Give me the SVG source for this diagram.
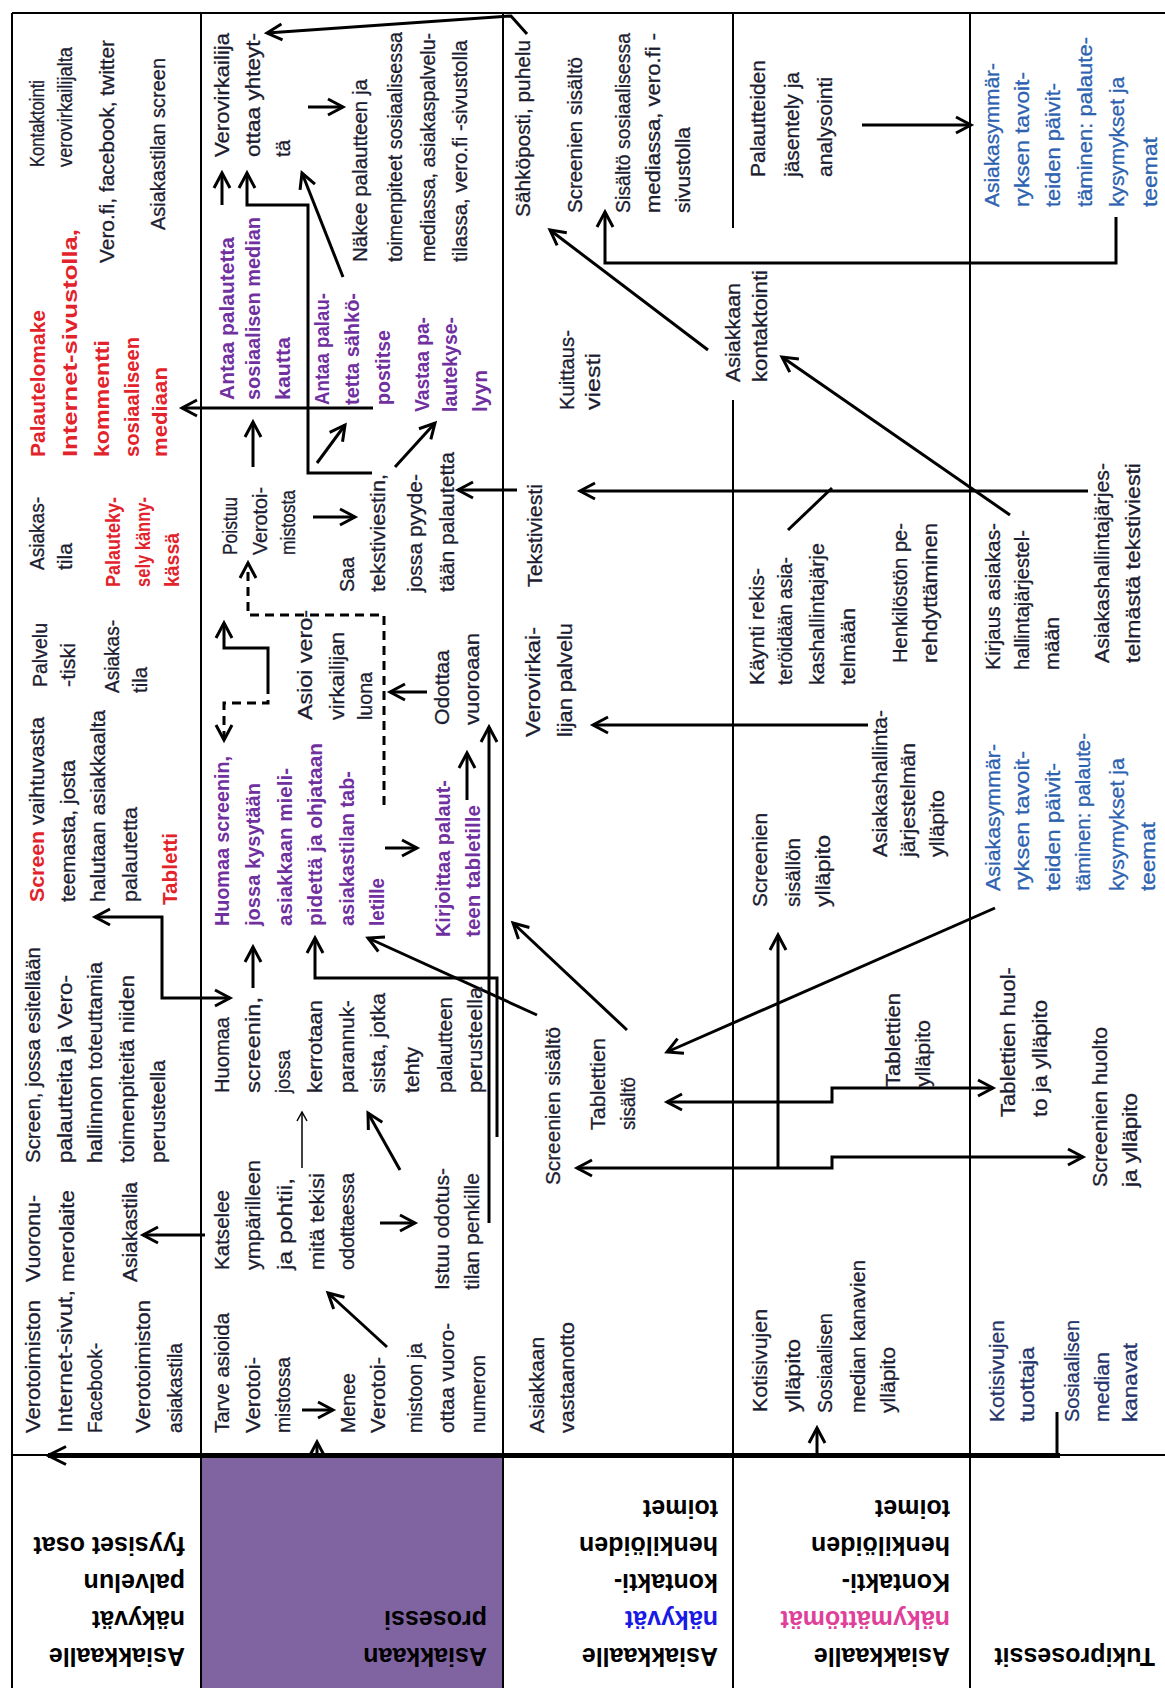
<svg xmlns="http://www.w3.org/2000/svg" width="1165" height="1688" viewBox="0 0 1165 1688">
<style>
  text { font-family: "Liberation Sans", Arial, sans-serif; }
  .t { font-size: 20px; fill: #1c1c30; stroke: #1c1c30; stroke-width: 0.3; }
  .r { fill: #e3232b; stroke: #e3232b; font-weight: bold; stroke-width: 0; }
  .p { fill: #7030a0; stroke: #7030a0; font-weight: bold; stroke-width: 0; }
  .b { fill: #2c62b0; stroke: #2c62b0; }
  .nv { fill: #24346b; stroke: #24346b; }
  .h { font-size: 25px; font-weight: bold; fill: #000; }
  .ln { stroke: #000; stroke-width: 2; fill: none; }
  .c { stroke: #000; stroke-width: 3; fill: none; marker-end: url(#ah); }
  .c2 { marker-start: url(#ah); }
  .d { stroke-dasharray: 9 6; }
  .thin { stroke: #000; stroke-width: 1.5; fill: none; marker-end: url(#ahs); }
</style>
<defs>
  <marker id="ah" viewBox="-20 -12 24 24" refX="0" refY="0" markerWidth="24" markerHeight="24" markerUnits="userSpaceOnUse" orient="auto-start-reverse">
    <path d="M-15,-8 L0,0 L-15,8" fill="none" stroke="#000" stroke-width="3"/>
  </marker>
  <marker id="ahs" viewBox="-12 -8 16 16" refX="0" refY="0" markerWidth="16" markerHeight="16" markerUnits="userSpaceOnUse" orient="auto">
    <path d="M-9,-5 L0,0 L-9,5" fill="none" stroke="#000" stroke-width="1.5"/>
  </marker>
  <marker id="ahb" viewBox="-24 -14 28 28" refX="0" refY="0" markerWidth="28" markerHeight="28" markerUnits="userSpaceOnUse" orient="auto">
    <path d="M-18,-9 L0,0 L-18,9" fill="none" stroke="#000" stroke-width="3"/>
  </marker>
</defs>

<rect width="1165" height="1688" fill="#fff"/>

<!-- lane grid -->
<g id="lanes">
  <rect x="201" y="1456" width="302" height="232" fill="#8064a2"/>
  <line class="ln" x1="12" y1="13" x2="1165" y2="13"/>
  <line class="ln" x1="12" y1="13" x2="12" y2="1688"/>
  <line class="ln" x1="201" y1="13" x2="201" y2="1688"/>
  <line class="ln" x1="503" y1="13" x2="503" y2="1688"/>
  <line class="ln" x1="733" y1="13" x2="733" y2="228"/>
  <line class="ln" x1="733" y1="400" x2="733" y2="1688"/>
  <line class="ln" x1="970" y1="13" x2="970" y2="1688"/>
  <line class="ln" x1="12" y1="1455" x2="1165" y2="1455"/>
</g>

<!-- lane headers (printed upside down) -->
<g id="header-fyysiset">
  <text class="h" transform="translate(185 1648) rotate(180)">Asiakkaalle</text>
  <text class="h" transform="translate(185 1611) rotate(180)">näkyvät</text>
  <text class="h" transform="translate(185 1574) rotate(180)">palvelun</text>
  <text class="h" transform="translate(185 1537) rotate(180)">fyysiset osat</text>
</g>
<g id="header-prosessi">
  <text class="h" transform="translate(487 1648) rotate(180)">Asiakkaan</text>
  <text class="h" transform="translate(487 1611) rotate(180)">prosessi</text>
</g>
<g id="header-nakyvat">
  <text class="h" transform="translate(718 1648) rotate(180)">Asiakkaalle</text>
  <text class="h" transform="translate(718 1611) rotate(180)" style="fill:#1a1ae6">näkyvät</text>
  <text class="h" transform="translate(718 1574) rotate(180)">kontakti-</text>
  <text class="h" transform="translate(718 1537) rotate(180)">henkilöiden</text>
  <text class="h" transform="translate(718 1500) rotate(180)">toimet</text>
</g>
<g id="header-nakymattomat">
  <text class="h" transform="translate(950 1648) rotate(180)">Asiakkaalle</text>
  <text class="h" transform="translate(950 1611) rotate(180)" style="fill:#e0409a">näkymättömät</text>
  <text class="h" transform="translate(950 1574) rotate(180)">Kontakti-</text>
  <text class="h" transform="translate(950 1537) rotate(180)">henkilöiden</text>
  <text class="h" transform="translate(950 1500) rotate(180)">toimet</text>
</g>
<g id="header-tuki">
  <text class="h" transform="translate(1155 1648) rotate(180)">Tukiprosessit</text>
</g>

<!-- connectors -->
<g id="connectors">
  <line x1="1060" y1="1455.5" x2="48" y2="1455.5" stroke="#000" stroke-width="5" marker-end="url(#ahb)"/>
  <polyline class="c" points="527,34 511,16 267,33"/>
  <polyline class="c" points="1116,217 1116,263 605,263 605,212"/>
  <line class="c" x1="862" y1="125" x2="971" y2="125"/>
  <line class="c" x1="708" y1="350" x2="550" y2="230"/>
  <line class="c" x1="1010" y1="515" x2="782" y2="357"/>
  <line class="c" x1="1088" y1="491" x2="580" y2="491"/>
  <line class="c" x1="517" y1="490" x2="458" y2="490"/>
  <line x1="788" y1="530" x2="832" y2="488" stroke="#000" stroke-width="3"/>
  <line class="c" x1="868" y1="725" x2="593" y2="725"/>
  <line class="c" x1="995" y1="908" x2="667" y2="1052"/>
  <polyline class="c c2" points="667,1102 832,1102 832,1088 993,1088"/>
  <polyline class="c c2" points="577,1168 832,1168 832,1157 1083,1157"/>
  <line class="c" x1="778" y1="1168" x2="778" y2="935"/>
  <line x1="1057" y1="1456" x2="1057" y2="1412" stroke="#000" stroke-width="3"/>
  <line class="c" x1="817" y1="1456" x2="817" y2="1428"/>
  <line class="c" x1="317" y1="1456" x2="317" y2="1442"/>
  <line class="c" x1="302" y1="1410" x2="333" y2="1410"/>
  <line class="c" x1="387" y1="1347" x2="328" y2="1293"/>
  <line class="c" x1="380" y1="1223" x2="415" y2="1223"/>
  <line class="thin" x1="302" y1="1168" x2="302" y2="1112"/>
  <line class="c" x1="400" y1="1170" x2="368" y2="1113"/>
  <line class="c" x1="253" y1="988" x2="253" y2="947"/>
  <polyline class="c c2" points="95,917 162,917 162,998 230,998"/>
  <polyline class="c" points="497,1137 497,978 315,978 315,938"/>
  <line class="c" x1="489" y1="1223" x2="489" y2="727"/>
  <line class="c" x1="537" y1="1015" x2="368" y2="938"/>
  <line class="c" x1="627" y1="1030" x2="513" y2="923"/>
  <line class="c" x1="467" y1="800" x2="467" y2="753"/>
  <line class="c" x1="385" y1="848" x2="417" y2="848"/>
  <polyline class="c d" points="384,805 384,615 248,615 248,563"/>
  <line class="c" x1="427" y1="692" x2="390" y2="692"/>
  <polyline class="c" points="268,685 268,648 224,648 224,623"/>
  <polyline class="c d" points="268,685 268,703 224,703 224,740"/>
  <line class="c" x1="313" y1="517" x2="355" y2="517"/>
  <line class="c" x1="253" y1="467" x2="253" y2="422"/>
  <line class="c" x1="317" y1="463" x2="345" y2="425"/>
  <line class="c" x1="395" y1="467" x2="435" y2="423"/>
  <line class="c" x1="373" y1="408" x2="182" y2="408"/>
  <polyline class="c" points="372,473 308,473 308,205 247,205 247,173"/>
  <line class="c" x1="222" y1="205" x2="222" y2="173"/>
  <line class="c" x1="343" y1="277" x2="302" y2="173"/>
  <line class="c" x1="308" y1="107" x2="343" y2="107"/>
  <line class="c" x1="205" y1="1235" x2="143" y2="1235"/>
</g>

<!-- lane: physical evidence -->
<g id="n-kontaktointi-kanavat">
  <text class="t" transform="translate(44 167) rotate(-90)" textLength="87" lengthAdjust="spacingAndGlyphs">Kontaktointi</text>
  <text class="t" transform="translate(72 167) rotate(-90)" textLength="120" lengthAdjust="spacingAndGlyphs">verovirkailijalta</text>
  <text class="t" transform="translate(114 263) rotate(-90)" textLength="223" lengthAdjust="spacingAndGlyphs">Vero.fi, facebook, twitter</text>
  <text class="t" transform="translate(165 230) rotate(-90)" textLength="172" lengthAdjust="spacingAndGlyphs">Asiakastilan screen</text>
</g>
<g id="n-palautelomake">
  <text class="t r" transform="translate(45 457) rotate(-90)" textLength="147" lengthAdjust="spacingAndGlyphs">Palautelomake</text>
  <text class="t r" transform="translate(77 457) rotate(-90)" textLength="228" lengthAdjust="spacingAndGlyphs">Internet-sivustolla,</text>
  <text class="t r" transform="translate(109 457) rotate(-90)" textLength="117" lengthAdjust="spacingAndGlyphs">kommentti</text>
  <text class="t r" transform="translate(139 457) rotate(-90)" textLength="120" lengthAdjust="spacingAndGlyphs">sosiaaliseen</text>
  <text class="t r" transform="translate(167 457) rotate(-90)" textLength="90" lengthAdjust="spacingAndGlyphs">mediaan</text>
</g>
<g id="n-asiakastila-1">
  <text class="t" transform="translate(44 570) rotate(-90)" textLength="73" lengthAdjust="spacingAndGlyphs">Asiakas-</text>
  <text class="t" transform="translate(72 570) rotate(-90)" textLength="27" lengthAdjust="spacingAndGlyphs">tila</text>
</g>
<g id="n-palautekysely">
  <text class="t r" transform="translate(120 587) rotate(-90)" textLength="90" lengthAdjust="spacingAndGlyphs">Palauteky-</text>
  <text class="t r" transform="translate(150 587) rotate(-90)" textLength="90" lengthAdjust="spacingAndGlyphs">sely känny-</text>
  <text class="t r" transform="translate(179 587) rotate(-90)" textLength="54" lengthAdjust="spacingAndGlyphs">kässä</text>
</g>
<g id="n-palvelutiski">
  <text class="t" transform="translate(47 687) rotate(-90)" textLength="64" lengthAdjust="spacingAndGlyphs">Palvelu</text>
  <text class="t" transform="translate(75 687) rotate(-90)" textLength="44" lengthAdjust="spacingAndGlyphs">-tiski</text>
</g>
<g id="n-asiakastila-2">
  <text class="t" transform="translate(119 693) rotate(-90)" textLength="73" lengthAdjust="spacingAndGlyphs">Asiakas-</text>
  <text class="t" transform="translate(147 693) rotate(-90)" textLength="26" lengthAdjust="spacingAndGlyphs">tila</text>
</g>
<g id="n-screen-vaihtuva">
  <text class="t" transform="translate(44 902) rotate(-90)" textLength="185" lengthAdjust="spacingAndGlyphs"><tspan class="r">Screen</tspan> vaihtuvasta</text>
  <text class="t" transform="translate(75 902) rotate(-90)" textLength="142" lengthAdjust="spacingAndGlyphs">teemasta, josta</text>
  <text class="t" transform="translate(105 902) rotate(-90)" textLength="192" lengthAdjust="spacingAndGlyphs">halutaan asiakkaalta</text>
  <text class="t" transform="translate(137 902) rotate(-90)" textLength="95" lengthAdjust="spacingAndGlyphs">palautetta</text>
  <text class="t r" transform="translate(177 905) rotate(-90)" textLength="72" lengthAdjust="spacingAndGlyphs">Tabletti</text>
</g>
<g id="n-screen-esittely">
  <text class="t" transform="translate(40 1163) rotate(-90)" textLength="216" lengthAdjust="spacingAndGlyphs">Screen, jossa esitellään</text>
  <text class="t" transform="translate(72 1163) rotate(-90)" textLength="188" lengthAdjust="spacingAndGlyphs">palautteita ja Vero-</text>
  <text class="t" transform="translate(102 1163) rotate(-90)" textLength="201" lengthAdjust="spacingAndGlyphs">hallinnon toteuttamia</text>
  <text class="t" transform="translate(134 1163) rotate(-90)" textLength="188" lengthAdjust="spacingAndGlyphs">toimenpiteitä niiden</text>
  <text class="t" transform="translate(165 1163) rotate(-90)" textLength="103" lengthAdjust="spacingAndGlyphs">perusteella</text>
</g>
<g id="n-vuoronumerolaite">
  <text class="t" transform="translate(40 1282) rotate(-90)" textLength="87" lengthAdjust="spacingAndGlyphs">Vuoronu-</text>
  <text class="t" transform="translate(74 1282) rotate(-90)" textLength="92" lengthAdjust="spacingAndGlyphs">merolaite</text>
</g>
<g id="n-asiakastila-3">
  <text class="t" transform="translate(137 1282) rotate(-90)" textLength="100" lengthAdjust="spacingAndGlyphs">Asiakastila</text>
</g>
<g id="n-verkkosivut">
  <text class="t" transform="translate(40 1433) rotate(-90)" textLength="133" lengthAdjust="spacingAndGlyphs">Verotoimiston</text>
  <text class="t" transform="translate(72 1433) rotate(-90)" textLength="143" lengthAdjust="spacingAndGlyphs">Internet-sivut,</text>
  <text class="t" transform="translate(102 1433) rotate(-90)" textLength="90" lengthAdjust="spacingAndGlyphs">Facebook-</text>
</g>
<g id="n-asiakastila-4">
  <text class="t" transform="translate(150 1433) rotate(-90)" textLength="133" lengthAdjust="spacingAndGlyphs">Verotoimiston</text>
  <text class="t" transform="translate(182 1433) rotate(-90)" textLength="90" lengthAdjust="spacingAndGlyphs">asiakastila</text>
</g>

<!-- lane: customer process -->
<g id="n-yhteydenotto">
  <text class="t" transform="translate(229 157) rotate(-90)" textLength="124" lengthAdjust="spacingAndGlyphs">Verovirkailija</text>
  <text class="t" transform="translate(260 157) rotate(-90)" textLength="124" lengthAdjust="spacingAndGlyphs">ottaa yhteyt-</text>
  <text class="t" transform="translate(290 157) rotate(-90)" textLength="17" lengthAdjust="spacingAndGlyphs">tä</text>
</g>
<g id="n-nakee-palautteen">
  <text class="t" transform="translate(367 262) rotate(-90)" textLength="183" lengthAdjust="spacingAndGlyphs">Näkee palautteen ja</text>
  <text class="t" transform="translate(402 262) rotate(-90)" textLength="230" lengthAdjust="spacingAndGlyphs">toimenpiteet sosiaalisessa</text>
  <text class="t" transform="translate(435 262) rotate(-90)" textLength="229" lengthAdjust="spacingAndGlyphs">mediassa, asiakaspalvelu-</text>
  <text class="t" transform="translate(467 262) rotate(-90)" textLength="222" lengthAdjust="spacingAndGlyphs">tilassa, vero.fi -sivustolla</text>
</g>
<g id="n-antaa-some">
  <text class="t p" transform="translate(234 400) rotate(-90)" textLength="163" lengthAdjust="spacingAndGlyphs">Antaa palautetta</text>
  <text class="t p" transform="translate(260 400) rotate(-90)" textLength="183" lengthAdjust="spacingAndGlyphs">sosiaalisen median</text>
  <text class="t p" transform="translate(290 400) rotate(-90)" textLength="63" lengthAdjust="spacingAndGlyphs">kautta</text>
</g>
<g id="n-antaa-sahkoposti">
  <text class="t p" transform="translate(329 405) rotate(-90)" textLength="112" lengthAdjust="spacingAndGlyphs">Antaa palau-</text>
  <text class="t p" transform="translate(359 405) rotate(-90)" textLength="112" lengthAdjust="spacingAndGlyphs">tetta sähkö-</text>
  <text class="t p" transform="translate(390 405) rotate(-90)" textLength="75" lengthAdjust="spacingAndGlyphs">postitse</text>
</g>
<g id="n-vastaa">
  <text class="t p" transform="translate(429 412) rotate(-90)" textLength="95" lengthAdjust="spacingAndGlyphs">Vastaa pa-</text>
  <text class="t p" transform="translate(457 412) rotate(-90)" textLength="95" lengthAdjust="spacingAndGlyphs">lautekyse-</text>
  <text class="t p" transform="translate(487 412) rotate(-90)" textLength="42" lengthAdjust="spacingAndGlyphs">lyyn</text>
</g>
<g id="n-poistuu">
  <text class="t" transform="translate(237 555) rotate(-90)" textLength="58" lengthAdjust="spacingAndGlyphs">Poistuu</text>
  <text class="t" transform="translate(267 555) rotate(-90)" textLength="68" lengthAdjust="spacingAndGlyphs">Verotoi-</text>
  <text class="t" transform="translate(295 555) rotate(-90)" textLength="65" lengthAdjust="spacingAndGlyphs">mistosta</text>
</g>
<g id="n-saa-tekstiviestin">
  <text class="t" transform="translate(354 592) rotate(-90)" textLength="35" lengthAdjust="spacingAndGlyphs">Saa</text>
  <text class="t" transform="translate(385 592) rotate(-90)" textLength="118" lengthAdjust="spacingAndGlyphs">tekstiviestin,</text>
  <text class="t" transform="translate(422 592) rotate(-90)" textLength="118" lengthAdjust="spacingAndGlyphs">jossa pyyde-</text>
  <text class="t" transform="translate(454 592) rotate(-90)" textLength="140" lengthAdjust="spacingAndGlyphs">tään palautetta</text>
</g>
<g id="n-asioi">
  <text class="t" transform="translate(312 720) rotate(-90)" textLength="110" lengthAdjust="spacingAndGlyphs">Asioi vero-</text>
  <text class="t" transform="translate(344 720) rotate(-90)" textLength="88" lengthAdjust="spacingAndGlyphs">virkailijan</text>
  <text class="t" transform="translate(372 720) rotate(-90)" textLength="48" lengthAdjust="spacingAndGlyphs">luona</text>
</g>
<g id="n-odottaa">
  <text class="t" transform="translate(449 725) rotate(-90)" textLength="75" lengthAdjust="spacingAndGlyphs">Odottaa</text>
  <text class="t" transform="translate(479 725) rotate(-90)" textLength="92" lengthAdjust="spacingAndGlyphs">vuoroaan</text>
</g>
<g id="n-huomaa-kysely">
  <text class="t p" transform="translate(229 926) rotate(-90)" textLength="170" lengthAdjust="spacingAndGlyphs">Huomaa screenin,</text>
  <text class="t p" transform="translate(260 926) rotate(-90)" textLength="143" lengthAdjust="spacingAndGlyphs">jossa kysytään</text>
  <text class="t p" transform="translate(292 926) rotate(-90)" textLength="158" lengthAdjust="spacingAndGlyphs">asiakkaan mieli-</text>
  <text class="t p" transform="translate(322 926) rotate(-90)" textLength="183" lengthAdjust="spacingAndGlyphs">pidettä ja ohjataan</text>
  <text class="t p" transform="translate(354 926) rotate(-90)" textLength="155" lengthAdjust="spacingAndGlyphs">asiakastilan tab-</text>
  <text class="t p" transform="translate(384 926) rotate(-90)" textLength="48" lengthAdjust="spacingAndGlyphs">letille</text>
</g>
<g id="n-kirjoittaa">
  <text class="t p" transform="translate(450 937) rotate(-90)" textLength="157" lengthAdjust="spacingAndGlyphs">Kirjoittaa palaut-</text>
  <text class="t p" transform="translate(480 937) rotate(-90)" textLength="132" lengthAdjust="spacingAndGlyphs">teen tabletille</text>
</g>
<g id="n-huomaa-parannukset">
  <text class="t" transform="translate(229 1093) rotate(-90)" textLength="76" lengthAdjust="spacingAndGlyphs">Huomaa</text>
  <text class="t" transform="translate(260 1093) rotate(-90)" textLength="96" lengthAdjust="spacingAndGlyphs">screenin,</text>
  <text class="t" transform="translate(290 1093) rotate(-90)" textLength="43" lengthAdjust="spacingAndGlyphs">jossa</text>
  <text class="t" transform="translate(322 1093) rotate(-90)" textLength="93" lengthAdjust="spacingAndGlyphs">kerrotaan</text>
  <text class="t" transform="translate(354 1093) rotate(-90)" textLength="93" lengthAdjust="spacingAndGlyphs">parannuk-</text>
  <text class="t" transform="translate(385 1093) rotate(-90)" textLength="100" lengthAdjust="spacingAndGlyphs">sista, jotka</text>
  <text class="t" transform="translate(419 1093) rotate(-90)" textLength="46" lengthAdjust="spacingAndGlyphs">tehty</text>
  <text class="t" transform="translate(452 1093) rotate(-90)" textLength="96" lengthAdjust="spacingAndGlyphs">palautteen</text>
  <text class="t" transform="translate(482 1093) rotate(-90)" textLength="106" lengthAdjust="spacingAndGlyphs">perusteella</text>
</g>
<g id="n-katselee">
  <text class="t" transform="translate(229 1270) rotate(-90)" textLength="80" lengthAdjust="spacingAndGlyphs">Katselee</text>
  <text class="t" transform="translate(260 1270) rotate(-90)" textLength="110" lengthAdjust="spacingAndGlyphs">ympärilleen</text>
  <text class="t" transform="translate(292 1270) rotate(-90)" textLength="92" lengthAdjust="spacingAndGlyphs">ja pohtii,</text>
  <text class="t" transform="translate(324 1270) rotate(-90)" textLength="97" lengthAdjust="spacingAndGlyphs">mitä tekisi</text>
  <text class="t" transform="translate(354 1270) rotate(-90)" textLength="97" lengthAdjust="spacingAndGlyphs">odottaessa</text>
</g>
<g id="n-istuu">
  <text class="t" transform="translate(449 1290) rotate(-90)" textLength="122" lengthAdjust="spacingAndGlyphs">Istuu odotus-</text>
  <text class="t" transform="translate(479 1290) rotate(-90)" textLength="117" lengthAdjust="spacingAndGlyphs">tilan penkille</text>
</g>
<g id="n-tarve">
  <text class="t" transform="translate(229 1433) rotate(-90)" textLength="120" lengthAdjust="spacingAndGlyphs">Tarve asioida</text>
  <text class="t" transform="translate(260 1433) rotate(-90)" textLength="76" lengthAdjust="spacingAndGlyphs">Verotoi-</text>
  <text class="t" transform="translate(290 1433) rotate(-90)" textLength="76" lengthAdjust="spacingAndGlyphs">mistossa</text>
</g>
<g id="n-menee">
  <text class="t" transform="translate(355 1433) rotate(-90)" textLength="60" lengthAdjust="spacingAndGlyphs">Menee</text>
  <text class="t" transform="translate(385 1433) rotate(-90)" textLength="76" lengthAdjust="spacingAndGlyphs">Verotoi-</text>
  <text class="t" transform="translate(422 1433) rotate(-90)" textLength="90" lengthAdjust="spacingAndGlyphs">mistoon ja</text>
  <text class="t" transform="translate(454 1433) rotate(-90)" textLength="110" lengthAdjust="spacingAndGlyphs">ottaa vuoro-</text>
  <text class="t" transform="translate(485 1433) rotate(-90)" textLength="78" lengthAdjust="spacingAndGlyphs">numeron</text>
</g>

<!-- lane: visible contact staff -->
<g id="n-sahkoposti">
  <text class="t" transform="translate(530 217) rotate(-90)" textLength="177" lengthAdjust="spacingAndGlyphs">Sähköposti, puhelu</text>
</g>
<g id="n-screenien-sisalto-1">
  <text class="t" transform="translate(582 213) rotate(-90)" textLength="156" lengthAdjust="spacingAndGlyphs">Screenien sisältö</text>
</g>
<g id="n-sisalto-some">
  <text class="t" transform="translate(630 213) rotate(-90)" textLength="180" lengthAdjust="spacingAndGlyphs">Sisältö sosiaalisessa</text>
  <text class="t" transform="translate(660 213) rotate(-90)" textLength="180" lengthAdjust="spacingAndGlyphs">mediassa, vero.fi -</text>
  <text class="t" transform="translate(690 213) rotate(-90)" textLength="86" lengthAdjust="spacingAndGlyphs">sivustolla</text>
</g>
<g id="n-kuittaus">
  <text class="t" transform="translate(574 410) rotate(-90)" textLength="80" lengthAdjust="spacingAndGlyphs">Kuittaus-</text>
  <text class="t" transform="translate(600 410) rotate(-90)" textLength="57" lengthAdjust="spacingAndGlyphs">viesti</text>
</g>
<g id="n-tekstiviesti">
  <text class="t" transform="translate(542 587) rotate(-90)" textLength="103" lengthAdjust="spacingAndGlyphs">Tekstiviesti</text>
</g>
<g id="n-verovirkailijan-palvelu">
  <text class="t" transform="translate(540 737) rotate(-90)" textLength="110" lengthAdjust="spacingAndGlyphs">Verovirkai-</text>
  <text class="t" transform="translate(572 737) rotate(-90)" textLength="114" lengthAdjust="spacingAndGlyphs">lijan palvelu</text>
</g>
<g id="n-screenien-sisalto-2">
  <text class="t" transform="translate(560 1185) rotate(-90)" textLength="158" lengthAdjust="spacingAndGlyphs">Screenien sisältö</text>
</g>
<g id="n-tablettien-sisalto">
  <text class="t" transform="translate(605 1130) rotate(-90)" textLength="92" lengthAdjust="spacingAndGlyphs">Tablettien</text>
  <text class="t" transform="translate(635 1130) rotate(-90)" textLength="53" lengthAdjust="spacingAndGlyphs">sisältö</text>
</g>
<g id="n-vastaanotto">
  <text class="t" transform="translate(544 1433) rotate(-90)" textLength="96" lengthAdjust="spacingAndGlyphs">Asiakkaan</text>
  <text class="t" transform="translate(574 1433) rotate(-90)" textLength="111" lengthAdjust="spacingAndGlyphs">vastaanotto</text>
</g>

<!-- lane: invisible contact staff -->
<g id="n-palautteiden-kasittely">
  <text class="t" transform="translate(765 177) rotate(-90)" textLength="117" lengthAdjust="spacingAndGlyphs">Palautteiden</text>
  <text class="t" transform="translate(799 177) rotate(-90)" textLength="105" lengthAdjust="spacingAndGlyphs">jäsentely ja</text>
  <text class="t" transform="translate(832 177) rotate(-90)" textLength="100" lengthAdjust="spacingAndGlyphs">analysointi</text>
</g>
<g id="n-asiakkaan-kontaktointi">
  <text class="t" transform="translate(740 382) rotate(-90)" textLength="99" lengthAdjust="spacingAndGlyphs">Asiakkaan</text>
  <text class="t" transform="translate(767 382) rotate(-90)" textLength="112" lengthAdjust="spacingAndGlyphs">kontaktointi</text>
</g>
<g id="n-kaynti">
  <text class="t" transform="translate(764 685) rotate(-90)" textLength="117" lengthAdjust="spacingAndGlyphs">Käynti rekis-</text>
  <text class="t" transform="translate(792 685) rotate(-90)" textLength="128" lengthAdjust="spacingAndGlyphs">teröidään asia-</text>
  <text class="t" transform="translate(824 685) rotate(-90)" textLength="142" lengthAdjust="spacingAndGlyphs">kashallintajärje</text>
  <text class="t" transform="translate(855 685) rotate(-90)" textLength="77" lengthAdjust="spacingAndGlyphs">telmään</text>
</g>
<g id="n-henkilosto">
  <text class="t" transform="translate(907 663) rotate(-90)" textLength="140" lengthAdjust="spacingAndGlyphs">Henkilöstön pe-</text>
  <text class="t" transform="translate(937 663) rotate(-90)" textLength="140" lengthAdjust="spacingAndGlyphs">rehdyttäminen</text>
</g>
<g id="n-screenien-yllapito">
  <text class="t" transform="translate(767 907) rotate(-90)" textLength="94" lengthAdjust="spacingAndGlyphs">Screenien</text>
  <text class="t" transform="translate(800 907) rotate(-90)" textLength="69" lengthAdjust="spacingAndGlyphs">sisällön</text>
  <text class="t" transform="translate(830 907) rotate(-90)" textLength="72" lengthAdjust="spacingAndGlyphs">ylläpito</text>
</g>
<g id="n-asiakashallinta-yllapito">
  <text class="t" transform="translate(887 857) rotate(-90)" textLength="147" lengthAdjust="spacingAndGlyphs">Asiakashallinta-</text>
  <text class="t" transform="translate(915 857) rotate(-90)" textLength="114" lengthAdjust="spacingAndGlyphs">järjestelmän</text>
  <text class="t" transform="translate(944 857) rotate(-90)" textLength="67" lengthAdjust="spacingAndGlyphs">ylläpito</text>
</g>
<g id="n-tablettien-yllapito">
  <text class="t" transform="translate(900 1087) rotate(-90)" textLength="94" lengthAdjust="spacingAndGlyphs">Tablettien</text>
  <text class="t" transform="translate(930 1087) rotate(-90)" textLength="67" lengthAdjust="spacingAndGlyphs">ylläpito</text>
</g>
<g id="n-kotisivujen-yllapito">
  <text class="t" transform="translate(767 1412) rotate(-90)" textLength="103" lengthAdjust="spacingAndGlyphs">Kotisivujen</text>
  <text class="t" transform="translate(800 1412) rotate(-90)" textLength="73" lengthAdjust="spacingAndGlyphs">ylläpito</text>
</g>
<g id="n-some-yllapito">
  <text class="t" transform="translate(832 1413) rotate(-90)" textLength="100" lengthAdjust="spacingAndGlyphs">Sosiaalisen</text>
  <text class="t" transform="translate(865 1413) rotate(-90)" textLength="153" lengthAdjust="spacingAndGlyphs">median kanavien</text>
  <text class="t" transform="translate(895 1413) rotate(-90)" textLength="66" lengthAdjust="spacingAndGlyphs">ylläpito</text>
</g>

<!-- lane: support processes -->
<g id="n-asiakasymmarrys-1">
  <text class="t b" transform="translate(999 207) rotate(-90)" textLength="144" lengthAdjust="spacingAndGlyphs">Asiakasymmär-</text>
  <text class="t b" transform="translate(1029 207) rotate(-90)" textLength="135" lengthAdjust="spacingAndGlyphs">ryksen tavoit-</text>
  <text class="t b" transform="translate(1060 207) rotate(-90)" textLength="124" lengthAdjust="spacingAndGlyphs">teiden päivit-</text>
  <text class="t b" transform="translate(1092 207) rotate(-90)" textLength="170" lengthAdjust="spacingAndGlyphs">täminen: palaute-</text>
  <text class="t b" transform="translate(1124 207) rotate(-90)" textLength="130" lengthAdjust="spacingAndGlyphs">kysymykset ja</text>
  <text class="t b" transform="translate(1157 207) rotate(-90)" textLength="70" lengthAdjust="spacingAndGlyphs">teemat</text>
</g>
<g id="n-kirjaus">
  <text class="t" transform="translate(1000 670) rotate(-90)" textLength="147" lengthAdjust="spacingAndGlyphs">Kirjaus asiakas-</text>
  <text class="t" transform="translate(1029 670) rotate(-90)" textLength="140" lengthAdjust="spacingAndGlyphs">hallintajärjestel-</text>
  <text class="t" transform="translate(1059 670) rotate(-90)" textLength="53" lengthAdjust="spacingAndGlyphs">mään</text>
</g>
<g id="n-tekstiviesti-jarjestelma">
  <text class="t" transform="translate(1109 663) rotate(-90)" textLength="200" lengthAdjust="spacingAndGlyphs">Asiakashallintajärjes-</text>
  <text class="t" transform="translate(1140 663) rotate(-90)" textLength="200" lengthAdjust="spacingAndGlyphs">telmästä tekstiviesti</text>
</g>
<g id="n-asiakasymmarrys-2">
  <text class="t b" transform="translate(1000 891) rotate(-90)" textLength="147" lengthAdjust="spacingAndGlyphs">Asiakasymmär-</text>
  <text class="t b" transform="translate(1029 891) rotate(-90)" textLength="140" lengthAdjust="spacingAndGlyphs">ryksen tavoit-</text>
  <text class="t b" transform="translate(1060 891) rotate(-90)" textLength="128" lengthAdjust="spacingAndGlyphs">teiden päivit-</text>
  <text class="t b" transform="translate(1090 891) rotate(-90)" textLength="158" lengthAdjust="spacingAndGlyphs">täminen: palaute-</text>
  <text class="t b" transform="translate(1124 891) rotate(-90)" textLength="133" lengthAdjust="spacingAndGlyphs">kysymykset ja</text>
  <text class="t b" transform="translate(1155 891) rotate(-90)" textLength="69" lengthAdjust="spacingAndGlyphs">teemat</text>
</g>
<g id="n-tablettien-huolto">
  <text class="t" transform="translate(1015 1117) rotate(-90)" textLength="150" lengthAdjust="spacingAndGlyphs">Tablettien huol-</text>
  <text class="t" transform="translate(1047 1117) rotate(-90)" textLength="117" lengthAdjust="spacingAndGlyphs">to ja ylläpito</text>
</g>
<g id="n-screenien-huolto">
  <text class="t" transform="translate(1107 1187) rotate(-90)" textLength="160" lengthAdjust="spacingAndGlyphs">Screenien huolto</text>
  <text class="t" transform="translate(1137 1187) rotate(-90)" textLength="94" lengthAdjust="spacingAndGlyphs">ja ylläpito</text>
</g>
<g id="n-kotisivujen-tuottaja">
  <text class="t nv" transform="translate(1004 1422) rotate(-90)" textLength="102" lengthAdjust="spacingAndGlyphs">Kotisivujen</text>
  <text class="t nv" transform="translate(1034 1422) rotate(-90)" textLength="75" lengthAdjust="spacingAndGlyphs">tuottaja</text>
</g>
<g id="n-some-kanavat">
  <text class="t nv" transform="translate(1079 1422) rotate(-90)" textLength="102" lengthAdjust="spacingAndGlyphs">Sosiaalisen</text>
  <text class="t nv" transform="translate(1109 1422) rotate(-90)" textLength="70" lengthAdjust="spacingAndGlyphs">median</text>
  <text class="t nv" transform="translate(1137 1422) rotate(-90)" textLength="79" lengthAdjust="spacingAndGlyphs">kanavat</text>
</g>
</svg>
